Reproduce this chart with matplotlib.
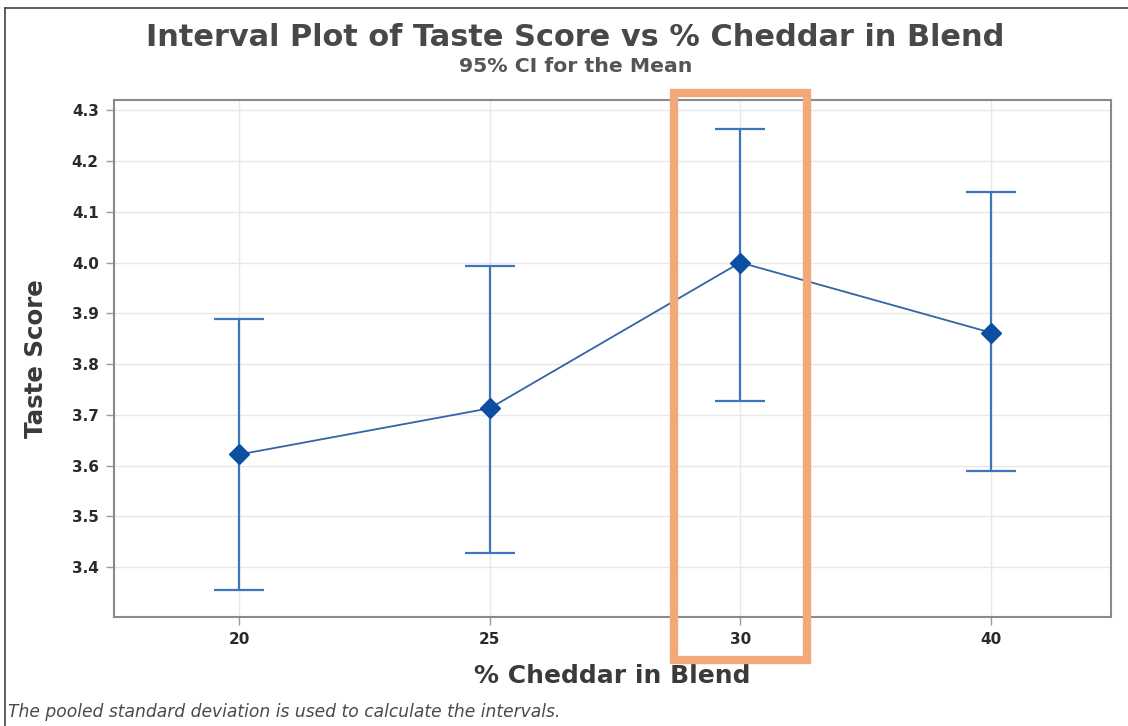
import matplotlib
matplotlib.use("Agg")
import matplotlib.pyplot as plt
from matplotlib.patches import Rectangle
from matplotlib.lines import Line2D
import matplotlib.transforms as mtransforms

plt.rcParams['font.family'] = ['DejaVu Sans']

# Data: mean taste score and 95% CI bounds for each blend
blends = ["20", "25", "30", "40"]
means = [3.622, 3.713, 4.000, 3.862]
ci_lower = [3.355, 3.428, 3.727, 3.589]
ci_upper = [3.889, 3.994, 4.262, 4.139]
y_ticks = [3.4, 3.5, 3.6, 3.7, 3.8, 3.9, 4.0, 4.1, 4.2, 4.3]
highlight = "30"

W, H = 1128, 726
fig = plt.figure(figsize=(W / 100, H / 100), dpi=100)
ax = fig.add_axes([114 / W, 1 - 617 / H, (1111 - 114) / W, (617 - 100) / H])

x = list(range(len(blends)))
err_lo = [m - l for m, l in zip(means, ci_lower)]
err_hi = [u - m for m, u in zip(means, ci_upper)]

ax.errorbar(x, means, yerr=[err_lo, err_hi], fmt='none', ecolor='#3D76BC',
            elinewidth=1.6, capsize=18, capthick=1.6, zorder=3)
ax.plot(x, means, color='#3563A5', lw=1.3, zorder=4)
ax.plot(x, means, linestyle='none', marker='D', ms=10, color='#0B4EA2',
        markeredgecolor='#0B4EA2', zorder=5)

ax.set_xlim(-0.5, 3.48)
ax.set_ylim(3.302, 4.32)
ax.set_xticks(x)
ax.set_xticklabels(blends)
ax.set_yticks(y_ticks)
ax.set_yticklabels([f"{v:.1f}" for v in y_ticks])

ax.grid(True, color='#E8E8E8', lw=1.0, zorder=0)
ax.set_axisbelow(True)
for s in ax.spines.values():
    s.set_color('#8A8A8A')
    s.set_linewidth(1.5)
ax.tick_params(axis='both', direction='out', length=6, width=1, color='#9A9A9A',
               labelsize=11, labelcolor='#2A2A2A', pad=5)
for lbl in ax.get_xticklabels() + ax.get_yticklabels():
    lbl.set_fontweight('bold')

xl = ax.set_xlabel("% Cheddar in Blend", fontsize=16, fontweight='bold', color='#3A3A3A', labelpad=12)
yl = ax.set_ylabel("Taste Score", fontsize=16, fontweight='bold', color='#3A3A3A', labelpad=17)

title = fig.text(0.51, 1 - 38 / H, "Interval Plot of Taste Score vs % Cheddar in Blend",
                 ha='center', va='center', fontsize=20, fontweight='bold', color='#484848')
subtitle = fig.text(0.51, 1 - 67 / H, "95% CI for the Mean", ha='center', va='center',
                    fontsize=14, fontweight='bold', color='#555555')
note = fig.text(8 / W, 1 - 712 / H, "The pooled standard deviation is used to calculate the intervals.",
                ha='left', va='center', fontsize=11.5, style='italic', color='#4A4A4A')


def fit_text(txt, target, use_height=False):
    """Scale a text's font size so its rendered extent spans `target` pixels."""
    renderer = fig.canvas.get_renderer()
    bb = txt.get_window_extent(renderer)
    span = bb.height if use_height else bb.width
    txt.set_fontsize(txt.get_fontsize() * target / span)


fit_text(title, 860)
fit_text(subtitle, 234)
fit_text(note, 554)
fit_text(xl, 276)
fit_text(yl, 160, use_height=True)

# Highlight box around the 30% blend
xi = blends.index(highlight)
trans = mtransforms.blended_transform_factory(ax.transData, ax.transAxes)
rect = Rectangle((xi - 0.266, -0.083), 0.532, 1.0965, transform=trans, fill=False,
                 edgecolor='#F2A878', lw=6, clip_on=False, zorder=10)
ax.add_patch(rect)

# Frame lines on the top and left of the figure
fig.add_artist(Line2D([5 / W, 5 / W], [0, 1 - 8 / H], color='#444444', lw=1.2))
fig.add_artist(Line2D([5 / W, 1], [1 - 8 / H, 1 - 8 / H], color='#444444', lw=1.2))

fig.savefig("out.png", dpi=100, facecolor='white')
